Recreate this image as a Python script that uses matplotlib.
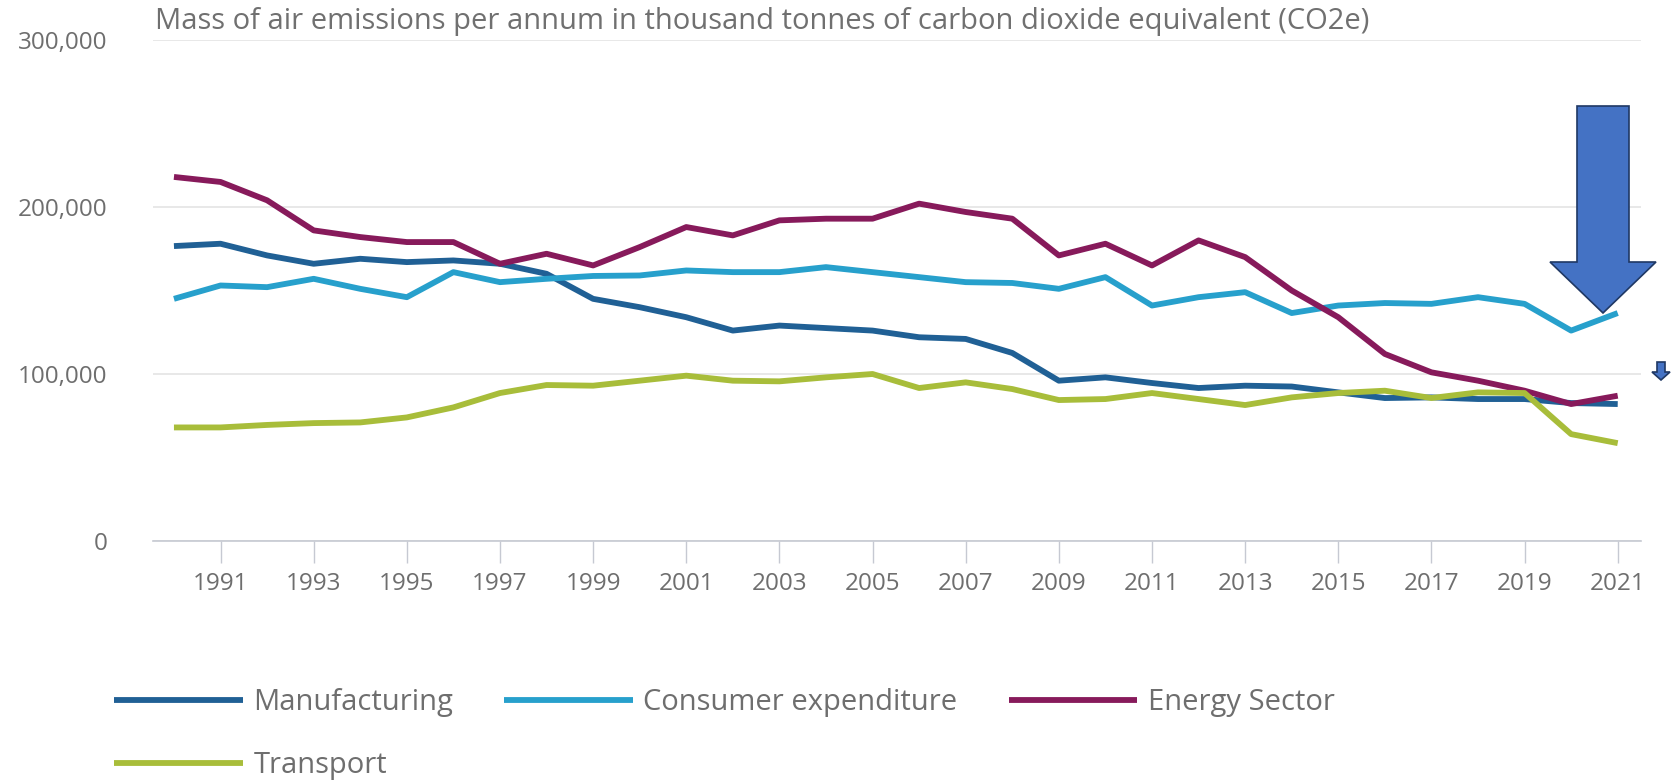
import numpy as np
import matplotlib
matplotlib.use("Agg")
import matplotlib.pyplot as plt
from matplotlib.patches import Polygon

plt.rcParams['font.family'] = ['Open Sans', 'DejaVu Sans']

# data, thousand tonnes CO2e
years = list(range(1990, 2022))
manufacturing = [176.6, 178, 171, 166, 169, 167, 168, 166, 160, 145, 140, 134, 126, 129, 127.5, 126,
                 122, 121, 112.6, 96, 98, 94.6, 91.6, 93, 92.5, 89, 85.6, 86, 85, 85, 82.6, 82]
consumer = [145, 153, 152, 157, 151, 146, 161, 155, 157, 158.7, 159, 162, 161, 161, 164, 161,
            158, 155, 154.5, 151, 158, 141, 146, 149, 136.5, 141, 142.5, 142, 146, 142, 126, 136.5]
energy = [218, 215, 204, 186, 182, 179, 179, 166, 172, 165, 176, 188, 183, 192, 193, 193,
          202, 197, 193, 171, 178, 165, 180, 170, 150, 134, 112, 101, 96, 90, 82, 87]
transport = [68, 68, 69.5, 70.6, 71, 74, 80, 88.6, 93.4, 93, 96, 99, 96, 95.6, 98, 100,
             91.6, 95, 91, 84.4, 85, 88.6, 85, 81.4, 86, 88.6, 90, 85.6, 89, 88.6, 64, 58.6]

series_names = ["Manufacturing", "Consumer expenditure", "Energy Sector", "Transport"]
series_values = [manufacturing, consumer, energy, transport]
series_colors = ["#206095", "#27a0cc", "#871a5b", "#a8bd3a"]
xtick_years = list(range(1991, 2022, 2))
ytick_values = [0, 100000, 200000, 300000]
title = "Mass of air emissions per annum in thousand tonnes of carbon dioxide equivalent (CO2e)"

W, H = 1676, 780
fig = plt.figure(figsize=(W / 100, H / 100), dpi=100)
ax = fig.add_axes([153 / W, 1 - 541 / H, (1641 - 153) / W, (541 - 40) / H])

lines = {}
for name, vals, col in zip(series_names, series_values, series_colors):
    ln, = ax.plot(years, np.array(vals) * 1000, color=col, linewidth=4.2,
                  solid_joinstyle='round', solid_capstyle='butt', label=name, zorder=3)
    lines[name] = ln

ax.set_xlim(1989.55, 2021.5)
ax.set_ylim(0, 300000)
ax.set_yticks(ytick_values)
ax.set_yticklabels([f"{v:,}" for v in ytick_values])
ax.set_xticks(xtick_years)
ax.set_xticklabels([str(y) for y in xtick_years])

for s in ["top", "right", "left"]:
    ax.spines[s].set_visible(False)
ax.spines["bottom"].set_color("#c6c9d2")
ax.spines["bottom"].set_linewidth(1.2)
ax.grid(axis='y', color="#e4e4e4", linewidth=1.2)
ax.set_axisbelow(True)
ax.tick_params(axis='y', length=0, pad=33, labelsize=17.5, labelcolor="#6e6e6e")
ax.tick_params(axis='x', length=16, width=1, color="#c6c9d2", direction='out',
               pad=6, labelsize=17.5, labelcolor="#6e6e6e")

fig.text(155 / W, 1 - 22 / H, title, fontsize=21, color="#707070", va='center', ha='left')

# legend in row order: reorder for column-wise fill
order = ["Manufacturing", "Transport", "Consumer expenditure", "Energy Sector"]
fig.legend([lines[n] for n in order], order, ncol=3, frameon=False,
           loc='upper left', bbox_to_anchor=(88 / W, 1 - 662 / H),
           fontsize=21, labelcolor="#6e6e6e", handlelength=4.4, handletextpad=0.37,
           columnspacing=1.75, labelspacing=1.15)

# arrow annotations (pixel coords from top-left)
def pix_poly(pts):
    return [(x / W, 1 - y / H) for x, y in pts]

big = [(1577, 106), (1629, 106), (1629, 262), (1656, 262), (1603, 313), (1550, 262), (1577, 262)]
small = [(1657, 362), (1665, 362), (1665, 372), (1670, 372), (1661, 380), (1652, 372), (1657, 372)]
for pts in (big, small):
    fig.patches.append(Polygon(pix_poly(pts), closed=True, transform=fig.transFigure,
                               facecolor="#4472c4", edgecolor="#1f3864", linewidth=1.2, zorder=10))

fig.savefig("out.png", dpi=100)
